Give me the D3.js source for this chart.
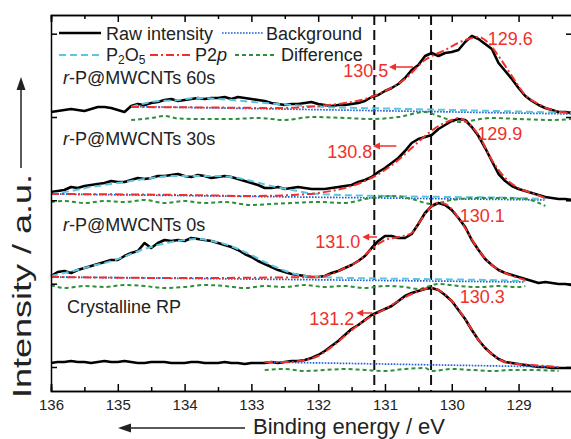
<!DOCTYPE html>
<html lang="en">
<head>
<meta charset="UTF-8">
<title>P 2p XPS | D3</title>
<style>
  body { margin: 0; background: #fff; }
  text { font-family: "Liberation Sans", Arial, sans-serif; }
</style>
</head>
<body>
<div id="container"></div>
<script src="https://d3js.org/d3.v7.min.js"></script>
<script>
// Raw spectra all share one energy grid (0.1 eV step)
var energy = [136.0,135.9,135.8,135.7,135.6,135.5,135.4,135.3,135.2,135.1,
  135.0,134.9,134.8,134.7,134.6,134.5,134.4,134.3,134.2,134.1,
  134.0,133.9,133.8,133.7,133.6,133.5,133.4,133.3,133.2,133.1,
  133.0,132.9,132.8,132.7,132.6,132.5,132.4,132.3,132.2,132.1,
  132.0,131.9,131.8,131.7,131.6,131.5,131.4,131.3,131.2,131.1,
  131.0,130.9,130.8,130.7,130.6,130.5,130.4,130.3,130.2,130.1,
  130.0,129.9,129.8,129.7,129.6,129.5,129.4,129.3,129.2,129.1,
  129.0,128.9,128.8,128.7,128.6,128.5,128.4,128.3,128.2];

// stacked raw intensities (a.u., offset per sample)
var raw60 = [288,289,290,291,290,289,291,293,293,292, 290,288,294,296,295,297,298,300,301,299,
  300,301,302,301,302,302,303,301,303,302, 301,300,299,297,296,295,296,296,297,298,
  296,295,294,295,295,296,297,299,303,305, 309,312,316,322,330,335,344,347,344,347,
  348,350,358,364,361,356,351,337,329,321, 312,304,299,295,292,290,288,288,287];
var raw30 = [208,209,210,213,212,214,215,216,217,219, 218,218,220,222,221,222,224,224,225,226,
  224,223,225,224,222,223,224,223,221,219, 217,215,212,212,213,211,212,213,212,211,
  211,211,212,213,214,215,218,220,223,228, 232,237,242,249,257,261,263,265,271,275,
  279,281,280,273,264,252,239,226,219,214, 211,209,207,205,203,202,201,201,200];
var raw0 = [124,128,129,127,130,132,134,136,138,140, 140,144,147,149,157,152,157,160,159,160,
  159,162,161,160,159,157,155,153,150,146, 143,139,136,133,130,128,126,125,124,123,
  123,124,127,129,132,135,139,144,152,159, 164,164,162,162,166,176,187,194,197,195,
  190,182,173,160,150,141,135,130,127,125, 123,121,119,117,118,117,116,116,115];
var rawC = [37,38,38,39,38,38,37,38,39,38, 38,39,38,37,37,38,38,38,37,37,
  37,38,38,37,37,37,38,37,37,36, 37,37,37,38,37,38,39,39,40,42,
  45,49,54,59,65,71,75,80,85,88, 91,94,99,104,107,109,111,112,110,105,
  99,90,81,70,60,52,46,41,38,37, 36,35,34,33,33,32,32,32,32];

// fitted curves: r-P@MWCNTs 60s
var bg60E = [134.8, 128.2], bg60 = [293.5, 286];
var p2o560E = [134.8,134.5,134.1,133.8,133.3,132.8,132.4,131.9,131.0,130.0,129.0,128.2];
var p2o560 = [293,298,300,302,300,297,295,293,291.5,290,288.5,287];
var p2p60E = [134.8,133.6,132.6,132.0,131.6,131.3,131.0,130.7,130.4,130.1,129.8,129.6,129.45,129.3,129.1,128.9,128.7,128.5,128.2];
var p2p60 = [293,292.5,292,294,297,301,309,321,340,350,360,363,357,344,324,305,296,290,287];
var diff60E = [134.8,134.5,134.3,134.1,133.8,133.3,132.9,132.5,132.1,131.6,131.2,130.8,130.4,130.2,129.9,129.4,129.0,128.5,128.2];
var diff60 = [280,282,284,281.5,281,281,282,280,283,282,281,283,288,284,278,282,281,280,281];

// r-P@MWCNTs 30s
var bg30E = [136, 128.6], bg30 = [206, 200];
var p2o530E = [136,135.7,135.4,135.1,134.8,134.5,134.2,133.9,133.6,133.3,133.0,132.7,132.4,132.0,131.0,130.0,129.0,128.6];
var p2o530 = [206,209,213,216,219,222,224,224,224,223,219,214,210,206,204,203,202,201];
var p2p30E = [136,134,133,132.4,132.0,131.6,131.3,131.0,130.8,130.6,130.4,130.2,130.0,129.9,129.8,129.6,129.4,129.2,129.0,128.8,128.6];
var p2p30 = [206,205,204,205,207,212,219,230,240,252,264,274,280,282,279,265,240,222,212,207,202];
var diff30E = [136,135.8,135.5,135.2,134.9,134.6,134.3,134.0,133.7,133.4,133.0,132.7,132.4,132.0,131.6,131.3,130.9,130.6,130.3,130.0,129.6,129.3,128.9,128.6];
var diff30 = [198,199,197,199,198,200,197,199,197,198,195,196,197,198,197,201,204,201,196,200,202,202,201,194];

// r-P@MWCNTs 0s
var bg0E = [136, 128.9], bg0 = [123, 118];
var p2o50E = [136,135.8,135.6,135.4,135.2,135.0,134.8,134.6,134.4,134.2,134.0,133.8,133.6,133.4,133.2,133.0,132.8,132.6,132.4,132.2,132.0,131.5,130.5,129.5,128.9];
var p2o50 = [124,127,130,134,137,141,146,151,155,158,160,161,159,156,151,145,138,132,127,124,123,122,121,120,119];
var p2p0E = [136,134,132.0,131.8,131.6,131.4,131.2,131.0,130.8,130.6,130.5,130.4,130.3,130.2,130.1,130.0,129.9,129.8,129.6,129.4,129.2,129.0,128.9];
var p2p0 = [123,122,123,126,132,139,151,160,163,167,176,186,194,197,196,191,182,172,150,135,127,122,120];
var diff0E = [136,135.8,135.5,135.2,134.9,134.6,134.3,134.0,133.7,133.4,133.1,132.8,132.5,132.2,131.9,131.6,131.3,131.0,130.7,130.5,130.2,129.9,129.6,129.3,129.0,128.9];
var diff0 = [115,112,114,113,115,114,112,113,115,114,112,114,113,115,113,114,112,114,113,111,116,114,113,114,113,114];

// Crystalline RP
var bgCE = [132.8, 128.4], bgC = [38, 33];
var p2pCE = [132.8,132.4,132.2,132.0,131.8,131.6,131.4,131.2,131.0,130.8,130.6,130.4,130.3,130.2,130.0,129.8,129.6,129.4,129.2,129.0,128.8,128.6,128.4];
var p2pC = [38,38,40,44,53,64,75,84,91,99,106,111,112,110,99,81,60,46,38,36,35,34,33];
var diffCE = [132.8,132.5,132.2,131.9,131.6,131.3,131.0,130.7,130.4,130.3,130.0,129.7,129.4,129.1,128.8,128.4];
var diffC = [30,31,29,30,31,30,29,31,32,29,31,30,29,30,30,29];

// axis ticks, reference lines and labels
var majorTicks = [136, 135, 134, 133, 132, 131, 130, 129];
var minorTicks = [135.5, 134.5, 133.5, 132.5, 131.5, 130.5, 129.5, 128.5];
var yTicks = [33, 116.3, 199.7, 283, 366.3];
var refLines = [131.16, 130.31];

var sampleTimes = ["60s", "30s", "0s"];
var sampleLabelV = [316, 255, 169, 87];

var peakLabels = ["129.6", "129.9", "130.1", "130.3"];
var peakLabelE = [129.46, 129.62, 129.88, 129.88];
var peakLabelV = [355, 260, 178, 97];
var shoulderLabels = ["130.5", "130.8", "131.0", "131.2"];
var shoulderLabelE = [130.95, 131.19, 131.37, 131.46];
var shoulderLabelV = [323, 242, 152, 75];
var arrowFromE = [130.58, 130.83, 131.12, 131.19];
var arrowToE = [130.94, 131.18, 131.34, 131.43];
var arrowV = [333, 254, 163, 87];

var styles = {
    raw:  {stroke: "#000000", width: 2.6, dash: null},
    bg:   {stroke: "#1f5fd6", width: 1.7, dash: "1.6,1.4"},
    p2o5: {stroke: "#5cc6e0", width: 2,   dash: "7,4"},
    p2p:  {stroke: "#f0302a", width: 2,   dash: "8,3,2,3"},
    diff: {stroke: "#2f8f3c", width: 2,   dash: "4,3"}
};

var spectra = [
    {raw: raw60, fits: [["bg", bg60E, bg60], ["p2o5", p2o560E, p2o560], ["p2p", p2p60E, p2p60], ["diff", diff60E, diff60]]},
    {raw: raw30, fits: [["bg", bg30E, bg30], ["p2o5", p2o530E, p2o530], ["p2p", p2p30E, p2p30], ["diff", diff30E, diff30]]},
    {raw: raw0,  fits: [["bg", bg0E, bg0], ["p2o5", p2o50E, p2o50], ["p2p", p2p0E, p2p0], ["diff", diff0E, diff0]]},
    {raw: rawC,  fits: [["bg", bgCE, bgC], ["p2p", p2pCE, p2pC], ["diff", diffCE, diffC]]}
];

var svg = d3.select("#container").append("svg")
    .attr("width", 571)
    .attr("height", 439);

var x = d3.scaleLinear().domain([136, 128.2]).range([51, 572]);
var y = d3.scaleLinear().domain([9, 385]).range([391, 15]);

var rawLine = d3.line()
    .x(function(d) { return x(d[0]); })
    .y(function(d) { return y(d[1]); });
var fitLine = d3.line()
    .curve(d3.curveMonotoneX)
    .x(function(d) { return x(d[0]); })
    .y(function(d) { return y(d[1]); });

function styled(sel, s) {
    sel.attr("fill", "none")
        .attr("stroke", s.stroke)
        .attr("stroke-width", s.width)
        .attr("stroke-dasharray", s.dash);
    return sel;
}

// dashed reference lines
svg.append("g").selectAll("line")
    .data(refLines)
    .enter().append("line")
    .attr("x1", function(d) { return x(d); })
    .attr("x2", function(d) { return x(d); })
    .attr("y1", y(385))
    .attr("y2", y(9))
    .attr("stroke", "#111")
    .attr("stroke-width", 2)
    .attr("stroke-dasharray", "10,5");

// spectra
var plot = svg.append("g").attr("class", "spectra");
spectra.forEach(function(sp) {
    var g = plot.append("g");
    styled(g.append("path"), styles.raw)
        .attr("stroke-linejoin", "round")
        .attr("d", rawLine(d3.zip(energy, sp.raw)));
    sp.fits.forEach(function(f) {
        styled(g.append("path"), styles[f[0]])
            .attr("d", fitLine(d3.zip(f[1], f[2])));
    });
});

// axes (ticks pointing in)
function axisStyle(g) {
    g.selectAll("path.domain").attr("stroke", "#000").attr("stroke-width", 1.5);
    g.selectAll(".tick line").attr("stroke", "#000").attr("stroke-width", 1.5);
    g.selectAll(".tick text")
        .attr("fill", "#222")
        .style("font-size", "15px")
        .style("font-family", "'Liberation Sans', Arial, sans-serif");
}

svg.append("g")
    .attr("transform", "translate(0,391)")
    .call(d3.axisBottom(x).tickValues(minorTicks).tickSize(-4).tickFormat(""))
    .call(axisStyle);
svg.append("g")
    .attr("transform", "translate(0,391)")
    .call(d3.axisBottom(x).tickValues(majorTicks).tickSize(-7).tickPadding(8).tickFormat(d3.format("d")))
    .call(axisStyle);
svg.append("g")
    .attr("transform", "translate(0,15)")
    .call(d3.axisTop(x).tickValues(minorTicks).tickSize(-4).tickFormat(""))
    .call(axisStyle);
svg.append("g")
    .attr("transform", "translate(0,15)")
    .call(d3.axisTop(x).tickValues(majorTicks).tickSize(-7).tickFormat(""))
    .call(axisStyle);
svg.append("g")
    .attr("transform", "translate(51,0)")
    .call(d3.axisLeft(y).tickValues(yTicks).tickSize(-6).tickFormat("").tickSizeOuter(0))
    .call(axisStyle);
svg.append("g")
    .attr("transform", "translate(573,0)")
    .call(d3.axisRight(y).tickValues(yTicks).tickSize(-7).tickFormat("").tickSizeOuter(0))
    .call(axisStyle);

// legend
var legend = svg.append("g").attr("class", "legend");
var legendRows = [
    ["raw", 59, 101, 33], ["bg", 222, 263, 33],
    ["p2o5", 59, 101, 55], ["p2p", 150, 190, 55], ["diff", 235, 275, 55]
];
legendRows.forEach(function(r) {
    styled(legend.append("line"), styles[r[0]])
        .attr("x1", r[1]).attr("x2", r[2])
        .attr("y1", r[3]).attr("y2", r[3]);
});
legend.append("text").attr("x", 106).attr("y", 39.5).style("font-size", "18px").attr("fill", "#222").text("Raw intensity");
legend.append("text").attr("x", 266).attr("y", 39.5).style("font-size", "18px").attr("fill", "#222").text("Background");
var t = legend.append("text").attr("x", 106).attr("y", 61).style("font-size", "18px").attr("fill", "#222");
t.append("tspan").text("P");
t.append("tspan").attr("dy", 3).style("font-size", "12px").text("2");
t.append("tspan").attr("dy", -3).text("O");
t.append("tspan").attr("dy", 3).style("font-size", "12px").text("5");
t = legend.append("text").attr("x", 195).attr("y", 61).style("font-size", "18px").attr("fill", "#222");
t.append("tspan").text("P2");
t.append("tspan").style("font-style", "italic").text("p");
legend.append("text").attr("x", 281).attr("y", 61).style("font-size", "18px").attr("fill", "#222").text("Difference");

// sample names
sampleTimes.forEach(function(s, i) {
    var tt = svg.append("text")
        .attr("x", x(135.82)).attr("y", y(sampleLabelV[i]))
        .style("font-size", "18px").attr("fill", "#222");
    tt.append("tspan").style("font-style", "italic").text("r");
    tt.append("tspan").text("-P@MWCNTs " + s);
});
svg.append("text")
    .attr("x", x(135.76)).attr("y", y(sampleLabelV[3]))
    .style("font-size", "18px").attr("fill", "#222")
    .text("Crystalline RP");

// peak annotations
var red = "#f0302a";
peakLabels.forEach(function(s, i) {
    svg.append("text")
        .attr("x", x(peakLabelE[i])).attr("y", y(peakLabelV[i]))
        .style("font-size", "18px").attr("fill", red)
        .text(s);
});
shoulderLabels.forEach(function(s, i) {
    svg.append("text")
        .attr("x", x(shoulderLabelE[i])).attr("y", y(shoulderLabelV[i]))
        .attr("text-anchor", "end")
        .style("font-size", "18px").attr("fill", red)
        .text(s);
    var x0 = x(arrowFromE[i]), x1 = x(arrowToE[i]), yy = y(arrowV[i]);
    svg.append("line")
        .attr("x1", x0).attr("x2", x1 + 5)
        .attr("y1", yy).attr("y2", yy)
        .attr("stroke", red).attr("stroke-width", 1.5);
    svg.append("path")
        .attr("d", "M" + x1 + "," + yy + "l7,-3.5l0,7z")
        .attr("fill", red);
});

// axis titles with arrows
svg.append("text")
    .attr("x", 253).attr("y", 434)
    .style("font-size", "22px").attr("fill", "#222")
    .text("Binding energy / eV");
svg.append("line")
    .attr("x1", 245).attr("x2", 124).attr("y1", 428).attr("y2", 428)
    .attr("stroke", "#222").attr("stroke-width", 1.5);
svg.append("path").attr("d", "M118,428l13,-4.5l0,9z").attr("fill", "#222");

svg.append("text")
    .attr("transform", "translate(31,398) rotate(-90)")
    .attr("textLength", 224)
    .attr("lengthAdjust", "spacingAndGlyphs")
    .style("font-size", "26px").attr("fill", "#222")
    .text("Intensity / a.u.");
svg.append("line")
    .attr("x1", 21).attr("x2", 21).attr("y1", 168).attr("y2", 84)
    .attr("stroke", "#222").attr("stroke-width", 1.5);
svg.append("path").attr("d", "M21,77l-4.5,13l9,0z").attr("fill", "#222");
</script>
</body>
</html>
